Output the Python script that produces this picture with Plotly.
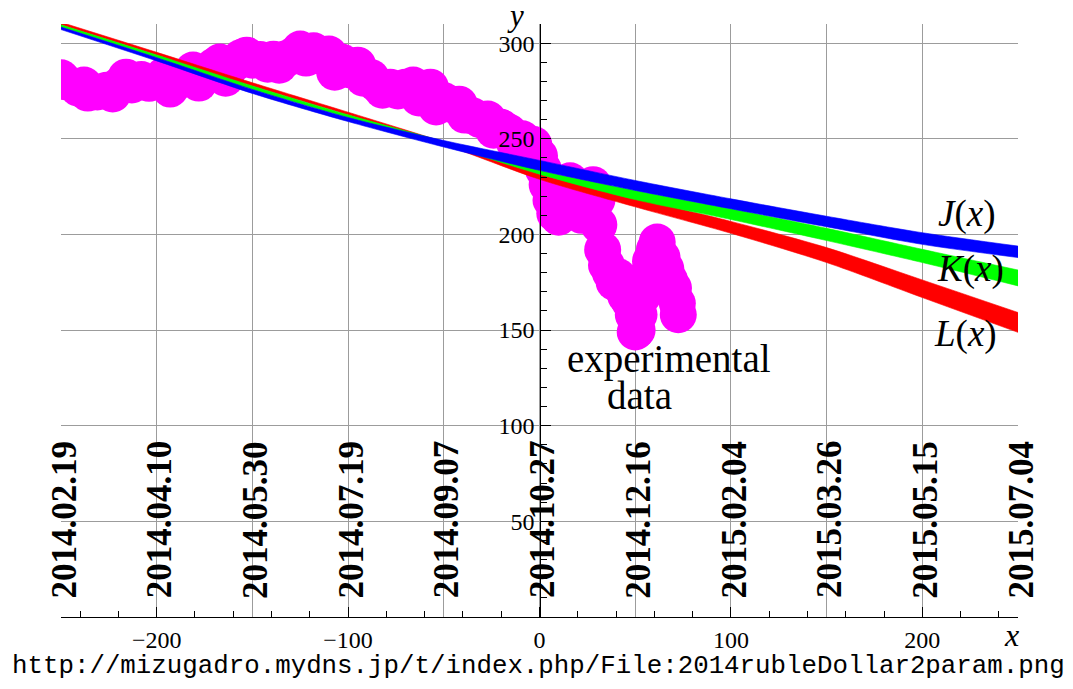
import plotly.graph_objects as go

# ---------------- data ----------------
x_grid = [-250, -200, -150, -100, -50, 0, 50, 100, 150, 200, 250]
date_labels = ["2014.02.19", "2014.04.10", "2014.05.30", "2014.07.19", "2014.09.07",
               "2014.10.27", "2014.12.16", "2015.02.04", "2015.03.26", "2015.05.15",
               "2015.07.04"]
x_major = [-200, -100, 0, 100, 200]
x_major_text = ["\u2212200", "\u2212100", "0", "100", "200"]
y_major = [50, 100, 150, 200, 250, 300]

# fitted bands (upper / lower edge) read at x_grid
J_upper = [308.4, 292.4, 275.8, 261.1, 249.1, 238.7, 228.2, 218.6, 209.5, 200.9, 193.9]
J_lower = [307.1, 290.7, 273.7, 259.0, 245.7, 233.5, 223.0, 213.4, 204.0, 194.8, 187.9]
K_upper = [309.6, 293.8, 277.6, 262.5, 248.5, 233.5, 223.0, 213.4, 203.2, 192.2, 181.4]
K_lower = [308.4, 292.4, 275.8, 261.1, 247.0, 231.5, 218.2, 207.8, 196.8, 185.3, 173.1]
L_upper = [310.9, 295.2, 279.3, 263.9, 248.3, 231.5, 219.0, 206.8, 193.1, 176.2, 159.2]
L_lower = [309.6, 293.8, 277.6, 262.5, 247.0, 228.8, 214.4, 200.6, 185.3, 167.0, 148.8]

data_x = [-250, -248, -241, -238, -236, -231, -226, -223, -219, -216, -213,
          -208, -204, -200, -196, -193, -189, -184, -181, -178, -174, -170,
          -167, -164, -160, -156, -153, -150, -146, -142, -139, -136, -132,
          -128, -125, -122, -118, -114, -110, -107, -103, -99, -95, -92,
          -88, -85, -82, -78, -74, -70, -66, -63, -60, -57, -54,
          -50, -46, -42, -39, -35, -31, -27, -24, -20, -16, -13,
          -9, -6, -3, 0, 2, 4, 6, 8, 10, 12, 14, 16, 18, 20, 22, 24, 26, 28, 30,
          31, 33, 35, 37, 39, 41, 43, 45, 47, 49, 50, 51,
          52, 54, 56, 58, 60, 61.5, 64, 66, 68, 70, 72, 72.5]
data_y = [281.9, 279.8, 276.5, 278.1, 273.9, 274.5, 275.4, 273.4, 278.5, 282.2, 278.1,
          281.0, 279.0, 280.0, 283.3, 276.0, 280.0, 282.0, 285.9, 279.1, 284.0, 288.0,
          290.1, 281.7, 289.0, 292.5, 293.7, 291.1, 291.5, 289.0, 291.6, 288.5, 292.0,
          294.0, 296.9, 292.2, 296.0, 293.0, 294.3, 284.8, 290.0, 286.0, 288.5, 281.7,
          282.0, 278.6, 275.4, 277.0, 275.0, 277.0, 278.1, 271.3, 274.0, 277.0, 266.6,
          270.0, 268.0, 268.1, 262.4, 262.0, 260.0, 260.3, 254.5, 256.0, 253.5, 247.8,
          250.0, 246.0, 247.0, 241.0, 234.0, 226.0, 218.0, 211.0, 209.0, 214.0, 222.0, 228.0,
          222.0, 214.0, 210.0, 218.0, 224.0, 226.0, 218.0,
          205.0, 192.0, 184.0, 180.0, 175.0, 178.0, 172.0, 168.0, 165.0, 158.0, 149.0, 150.0,
          158.0, 168.0, 178.0, 186.0, 192.0, 196.0, 188.0, 182.0, 176.0, 172.0, 164.0, 158.0]

# ---------------- figure ----------------
SERIF = "Liberation Serif"
X0, X1 = -250, 250
fig = go.Figure()

fig.add_trace(go.Scatter(
    x=data_x, y=data_y, mode="markers",
    marker=dict(size=37, color="#ff00ff", line=dict(width=0)),
    showlegend=False, hoverinfo="skip"))

for up, lo, col in [(L_upper, L_lower, "#ff0000"),
                    (K_upper, K_lower, "#00ff00"),
                    (J_upper, J_lower, "#0000ff")]:
    fig.add_trace(go.Scatter(
        x=x_grid, y=lo, mode="lines",
        line=dict(color=col, width=0.6, shape="spline", smoothing=0.8),
        showlegend=False, hoverinfo="skip"))
    fig.add_trace(go.Scatter(
        x=x_grid, y=up, mode="lines", fill="tonexty", fillcolor=col,
        line=dict(color=col, width=0.6, shape="spline", smoothing=0.8),
        showlegend=False, hoverinfo="skip"))

# helper trace for the grid axis
fig.add_trace(go.Scatter(x=[None], y=[None], xaxis="x2", yaxis="y",
                         showlegend=False, hoverinfo="skip"))

GRID = "#9c9c9c"
TICKFONT = dict(family=SERIF, size=24, color="black")
fig.update_layout(
    width=1065, height=681,
    margin=dict(l=53, r=55, t=16, b=72),
    paper_bgcolor="white", plot_bgcolor="white",
    showlegend=False,
    font=dict(family=SERIF, size=22, color="black"),
    xaxis=dict(
        range=[X0, X1], anchor="y",
        tickmode="array", tickvals=x_major, ticktext=x_major_text,
        ticks="inside", ticklen=10, tickwidth=1, tickcolor="black",
        minor=dict(dtick=20, tick0=0, ticks="inside", ticklen=6,
                   tickcolor="black", showgrid=False),
        showgrid=False, zeroline=False,
        showline=True, linecolor="black", linewidth=1.2,
        tickfont=TICKFONT, ticklabelstandoff=1,
    ),
    xaxis2=dict(
        range=[X0, X1], overlaying="x", anchor="y",
        tickmode="array", tickvals=x_grid,
        showgrid=True, gridcolor=GRID, gridwidth=1.2,
        showticklabels=False, ticks="", zeroline=False, showline=False,
    ),
    yaxis=dict(
        range=[0, 310], anchor="free", position=0.5,
        tickmode="array", tickvals=y_major,
        ticks="inside", ticklen=10, tickwidth=1, tickcolor="black",
        minor=dict(dtick=10, tick0=0, ticks="inside", ticklen=6,
                   tickcolor="black", showgrid=False),
        showgrid=True, gridcolor=GRID, gridwidth=1.2,
        zeroline=False,
        showline=True, linecolor="black", linewidth=1.2,
        tickfont=TICKFONT,
    ),
)

ann = []
for gx, lab in zip(x_grid, date_labels):
    ann.append(dict(x=(gx + 1.6 - X0) / (X1 - X0), y=51, xref="paper", yref="y",
                    text="<b>%s</b>" % lab, textangle=-90, showarrow=False,
                    font=dict(family=SERIF, size=35, color="black"),
                    xanchor="center", yanchor="middle"))

curve_labels = [("<i>J</i>(<i>x</i>)", 223.5, 210.5),
                ("<i>K</i>(<i>x</i>)", 225.0, 181.7),
                ("<i>L</i>(<i>x</i>)", 222.4, 148.2)]
for txt, lx, ly in curve_labels:
    ann.append(dict(x=lx, y=ly, xref="x", yref="y", text=txt, showarrow=False,
                    xanchor="center", yanchor="middle",
                    font=dict(family=SERIF, size=37, color="black")))

ann.append(dict(x=67.7, y=134.8, xref="x", yref="y", text="experimental",
                showarrow=False, xanchor="center", yanchor="middle",
                font=dict(family=SERIF, size=39, color="black")))
ann.append(dict(x=52.0, y=115.8, xref="x", yref="y", text="data",
                showarrow=False, xanchor="center", yanchor="middle",
                font=dict(family=SERIF, size=39, color="black")))

ann.append(dict(x=-12.7, y=1.014, xref="x", yref="paper", text="<i>y</i>",
                showarrow=False, xanchor="center", yanchor="middle",
                font=dict(family=SERIF, size=31, color="black")))
ann.append(dict(x=246.4, y=-0.030, xref="x", yref="paper", text="<i>x</i>",
                showarrow=False, xanchor="center", yanchor="middle",
                font=dict(family=SERIF, size=32, color="black")))

ann.append(dict(x=-0.4, y=-0.0843, xref="x", yref="paper",
                text="http://mizugadro.mydns.jp/t/index.php/File:2014rubleDollar2param.png",
                showarrow=False, xanchor="center", yanchor="middle",
                font=dict(family="Liberation Mono", size=25.8, color="black")))

fig.update_layout(annotations=ann)
fig.write_html("out.html")
